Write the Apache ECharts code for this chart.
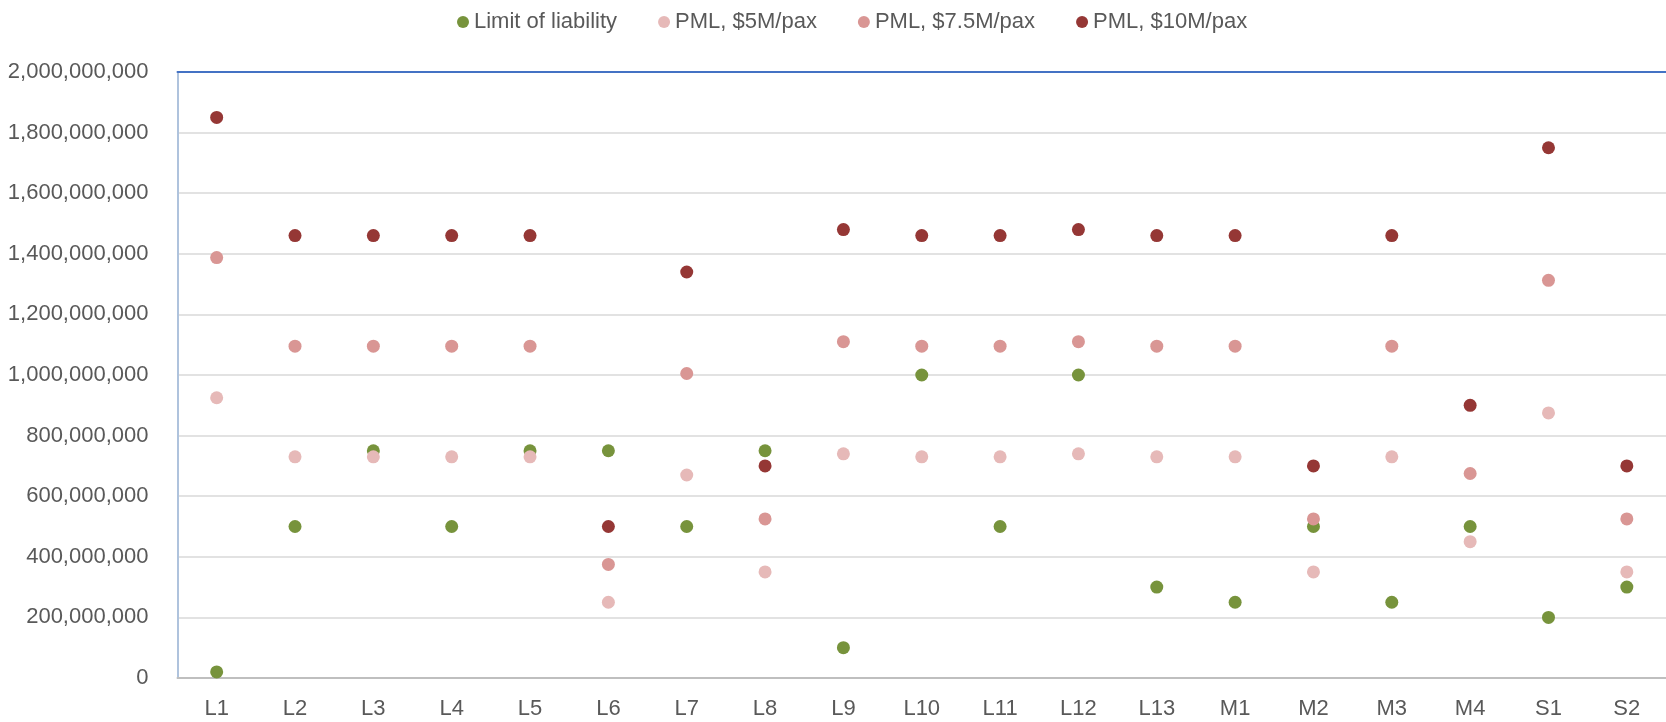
<!DOCTYPE html>
<html>
<head>
<meta charset="utf-8">
<script src="https://cdn.jsdelivr.net/npm/echarts@6/dist/echarts.min.js"></script>
<style>html,body{margin:0;padding:0;background:#fff}#c{width:1666px;height:722px}</style>
</head>
<body>
<div id="c"></div>
<script>
const categories = ['L1','L2','L3','L4','L5','L6','L7','L8','L9','L10','L11','L12','L13','M1','M2','M3','M4','S1','S2'];
const limitOfLiability = [20e6,500e6,750e6,500e6,750e6,750e6,500e6,750e6,100e6,1000e6,500e6,1000e6,300e6,250e6,500e6,250e6,500e6,200e6,300e6];
const pml5 = [925e6,730e6,730e6,730e6,730e6,250e6,670e6,350e6,740e6,730e6,730e6,740e6,730e6,730e6,350e6,730e6,450e6,875e6,350e6];
const pml75 = [1387.5e6,1095e6,1095e6,1095e6,1095e6,375e6,1005e6,525e6,1110e6,1095e6,1095e6,1110e6,1095e6,1095e6,525e6,1095e6,675e6,1312.5e6,525e6];
const pml10 = [1850e6,1460e6,1460e6,1460e6,1460e6,500e6,1340e6,700e6,1480e6,1460e6,1460e6,1480e6,1460e6,1460e6,700e6,1460e6,900e6,1750e6,700e6];
const yTicks = [0,200e6,400e6,600e6,800e6,1000e6,1200e6,1400e6,1600e6,1800e6,2000e6];
const seriesNames = ['Limit of liability','PML, $5M/pax','PML, $7.5M/pax','PML, $10M/pax'];
const colors = ['#77933C','#E6B9B8','#D99694','#953735'];

const font = "'Liberation Sans', Arial, sans-serif";
const chart = echarts.init(document.getElementById('c'), null, {renderer:'canvas'});
const datasets = [limitOfLiability, pml5, pml75, pml10];
chart.setOption({
  animation: false,
  color: colors,
  textStyle: {fontFamily: font},
  legend: {
    top: 6, left: 452,
    itemWidth: 12, itemHeight: 12, itemGap: 41,
    icon: 'circle',
    textStyle: {fontSize: 22, color: '#595959', fontFamily: font},
    data: seriesNames
  },
  grid: {left: 177.5, right: 0, top: 72, bottom: 44, containLabel: false},
  xAxis: [{
    type: 'category', data: categories, boundaryGap: true,
    axisLine: {show: true, lineStyle: {color: '#BFBFBF', width: 2}},
    axisTick: {show: false},
    axisLabel: {fontSize: 22, color: '#595959', fontFamily: font, margin: 20}
  },{
    type: 'category', data: categories, position: 'top',
    axisLine: {show: true, lineStyle: {color: '#4472C4', width: 2}},
    axisTick: {show: false}, axisLabel: {show: false}
  }],
  yAxis: {
    type: 'value', min: yTicks[0], max: yTicks[yTicks.length-1], interval: yTicks[1]-yTicks[0],
    axisLine: {show: true, lineStyle: {color: '#AFC3DD', width: 2}},
    axisTick: {show: false},
    splitLine: {lineStyle: {color: '#D9D9D9', width: 1.5}},
    axisLabel: {fontSize: 22, color: '#595959', fontFamily: font, margin: 29,
      formatter: v => v.toLocaleString('en-US')}
  },
  series: datasets.map((d, i) => ({
    name: seriesNames[i], type: 'scatter', data: d,
    symbol: 'circle', symbolSize: 13,
    itemStyle: {color: colors[i], opacity: 1},
    z: 2 + i
  }))
});
</script>
</body>
</html>
